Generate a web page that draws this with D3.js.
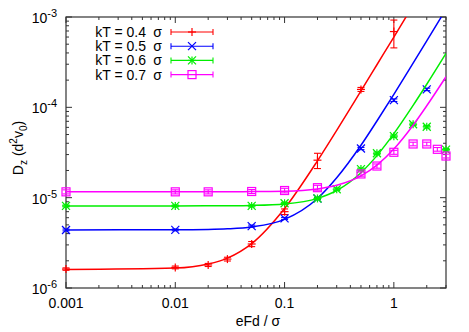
<!DOCTYPE html>
<html>
<head>
<meta charset="utf-8">
<script src="https://cdn.jsdelivr.net/npm/d3@7"></script>
<style>
  body { margin: 0; background: #fff; }
  svg text { font-family: "Liberation Sans", Arial, sans-serif; font-size: 14px; fill: #000; }
</style>
</head>
<body>
<div id="chart"></div>
<script>
// measured points, eFd/sigma vs D_z
const redX = [0.001, 0.01, 0.02, 0.03, 0.05, 0.1, 0.2, 0.5, 1];
const redY = [1.62e-6, 1.69e-6, 1.80e-6, 2.09e-6, 3.07e-6, 7.0e-6, 2.6e-5, 1.58e-4, 6.9e-4];
const redErr = [0.05e-6, 0.06e-6, 0.07e-6, 0.1e-6, 0.2e-6, 0.5e-6, 0.5e-5, 0.08e-4, 2.35e-4];

const blueX = [0.001, 0.01, 0.05, 0.1, 0.2, 0.5, 1, 2];
const blueY = [4.39e-6, 4.4e-6, 4.85e-6, 5.9e-6, 9.8e-6, 3.5e-5, 1.2e-4, 1.58e-4];
const blueErr = [0.1e-6, 0.1e-6, 0.12e-6, 0.15e-6, 0.25e-6, 1e-6, 4e-6, 5e-6];

const greenX = [0.001, 0.01, 0.05, 0.1, 0.2, 0.3, 0.5, 0.7, 1, 1.5, 2, 3];
const greenY = [8.1e-6, 8.1e-6, 8.1e-6, 8.67e-6, 9.8e-6, 1.24e-5, 2.07e-5, 3.1e-5, 4.8e-5, 6.5e-5, 6.1e-5, 3.4e-5];
const greenErr = [0.2e-6, 0.2e-6, 0.2e-6, 0.2e-6, 0.3e-6, 0.4e-6, 0.6e-6, 1e-6, 1.5e-6, 2e-6, 2e-6, 1e-6];

const magX = [0.001, 0.01, 0.02, 0.05, 0.1, 0.2, 0.5, 0.7, 1, 1.5, 2, 2.5, 3];
const magY = [1.16e-5, 1.16e-5, 1.16e-5, 1.17e-5, 1.2e-5, 1.29e-5, 1.83e-5, 2.24e-5, 3.18e-5, 3.93e-5, 3.93e-5, 3.43e-5, 2.89e-5];
const magErr = [0.6e-6, 0.6e-6, 0.6e-6, 0.6e-6, 0.7e-6, 0.8e-6, 1e-6, 1.2e-6, 1.6e-6, 1.8e-6, 1.8e-6, 1.6e-6, 1.4e-6];

const fitX = [0.001, 0.01, 0.02, 0.03, 0.05, 0.1, 0.2, 0.3, 0.5, 0.7, 1, 1.5, 2, 3];
const redFit = [1.6e-6, 1.66e-6, 1.84e-6, 2.14e-6, 3.1e-6, 7.6e-6, 2.56e-5, 5.56e-5, 1.52e-4, 2.96e-4, 6.0e-4, 1.35e-3, 2.4e-3, 5.4e-3];
const blueFit = [4.4e-6, 4.41e-6, 4.45e-6, 4.52e-6, 4.74e-6, 5.75e-6, 9.8e-6, 1.66e-5, 3.8e-5, 7.06e-5, 1.39e-4, 3.08e-4, 5.44e-4, 1.22e-3];
const greenFit = [8.1e-6, 8.1e-6, 8.12e-6, 8.14e-6, 8.21e-6, 8.53e-6, 9.82e-6, 1.2e-5, 1.89e-5, 2.92e-5, 5.11e-5, 1.05e-4, 1.8e-4, 3.95e-4];
const magFit = [1.16e-5, 1.16e-5, 1.16e-5, 1.16e-5, 1.17e-5, 1.18e-5, 1.25e-5, 1.37e-5, 1.74e-5, 2.29e-5, 3.46e-5, 6.34e-5, 1.04e-4, 2.18e-4];

const legendLabels = ["kT = 0.4", "kT = 0.5", "kT = 0.6", "kT = 0.7"];
const legendUnit = "σ";
const xTicks = [0.001, 0.01, 0.1, 1];
const xTickLabels = ["0.001", "0.01", "0.1", "1"];
const yTicks = [1e-6, 1e-5, 1e-4, 1e-3];
const yTickExp = ["-6", "-5", "-4", "-3"];

const series = [
  { xs: redX, ys: redY, err: redErr, fit: redFit, color: "#ff0000", mark: "plus" },
  { xs: blueX, ys: blueY, err: blueErr, fit: blueFit, color: "#0000ff", mark: "cross" },
  { xs: greenX, ys: greenY, err: greenErr, fit: greenFit, color: "#00ee00", mark: "star" },
  { xs: magX, ys: magY, err: magErr, fit: magFit, color: "#ff00ff", mark: "square" }
];

const W = 469, H = 332;
const plot = { left: 66, right: 446, top: 17, bottom: 288 };

const svg = d3.select("#chart").append("svg").attr("width", W).attr("height", H);

const x = d3.scaleLog().domain([0.001, 3]).range([plot.left, plot.right]);
const y = d3.scaleLog().domain([1e-6, 1e-3]).range([plot.bottom, plot.top]);

svg.append("clipPath").attr("id", "clip").append("rect")
  .attr("x", plot.left).attr("y", plot.top)
  .attr("width", plot.right - plot.left).attr("height", plot.bottom - plot.top);

// ticks (gnuplot style: inward, mirrored)
const axisColor = "#333";
const tickG = svg.append("g").attr("stroke", axisColor).attr("stroke-width", 1);
const xMinor = [];
for (let e = -3; e <= 0; e++) for (let m = 1; m <= 9; m++) { const v = m * Math.pow(10, e); if (v <= 3) xMinor.push(v); }
xMinor.forEach(v => {
  const len = (Math.abs(Math.log10(v) - Math.round(Math.log10(v))) < 1e-9) ? 6 : 3;
  const px = x(v);
  tickG.append("line").attr("x1", px).attr("x2", px).attr("y1", plot.bottom).attr("y2", plot.bottom - len);
  tickG.append("line").attr("x1", px).attr("x2", px).attr("y1", plot.top).attr("y2", plot.top + len);
});
const yMinor = [];
for (let e = -6; e <= -4; e++) for (let m = 1; m <= 9; m++) yMinor.push(m * Math.pow(10, e));
yMinor.push(1e-3);
yMinor.forEach(v => {
  const len = (Math.abs(Math.log10(v) - Math.round(Math.log10(v))) < 1e-9) ? 6 : 3;
  const py = y(v);
  tickG.append("line").attr("y1", py).attr("y2", py).attr("x1", plot.left).attr("x2", plot.left + len);
  tickG.append("line").attr("y1", py).attr("y2", py).attr("x1", plot.right).attr("x2", plot.right - len);
});

svg.append("rect")
  .attr("x", plot.left).attr("y", plot.top)
  .attr("width", plot.right - plot.left).attr("height", plot.bottom - plot.top)
  .attr("fill", "none").attr("stroke", axisColor).attr("stroke-width", 1.2);

// tick labels
svg.selectAll(".xtl").data(xTicks).enter().append("text")
  .attr("x", d => x(d)).attr("y", plot.bottom + 20)
  .attr("text-anchor", "middle")
  .text((d, i) => xTickLabels[i]);

yTicks.forEach((v, i) => {
  const t = svg.append("text").attr("x", 57).attr("y", y(v) + 6).attr("text-anchor", "end");
  t.append("tspan").text("10");
  t.append("tspan").attr("dy", -6).attr("font-size", 11).text(yTickExp[i]);
});

// axis titles
svg.append("text").attr("x", 258).attr("y", 326).attr("text-anchor", "middle").text("eFd / σ");
const yl = svg.append("text").attr("transform", "translate(23,148) rotate(-90)").attr("text-anchor", "middle");
yl.append("tspan").text("D");
yl.append("tspan").attr("dy", 4).attr("font-size", 10).text("z");
yl.append("tspan").attr("dy", -4).text(" (d");
yl.append("tspan").attr("dy", -6).attr("font-size", 10).text("2");
yl.append("tspan").attr("dy", 6).text("v");
yl.append("tspan").attr("dy", 4).attr("font-size", 10).text("0");
yl.append("tspan").attr("dy", -4).text(")");

function drawMarker(g, type, cx, cy, color) {
  const s = 4;
  const m = g.append("g").attr("stroke", color).attr("stroke-width", 1.2).attr("fill", "none");
  if (type === "plus" || type === "star") {
    m.append("line").attr("x1", cx - s).attr("x2", cx + s).attr("y1", cy).attr("y2", cy);
    m.append("line").attr("x1", cx).attr("x2", cx).attr("y1", cy - s).attr("y2", cy + s);
  }
  if (type === "cross" || type === "star") {
    m.append("line").attr("x1", cx - s).attr("x2", cx + s).attr("y1", cy - s).attr("y2", cy + s);
    m.append("line").attr("x1", cx - s).attr("x2", cx + s).attr("y1", cy + s).attr("y2", cy - s);
  }
  if (type === "square") {
    m.append("rect").attr("x", cx - s).attr("y", cy - s).attr("width", 2 * s).attr("height", 2 * s);
  }
}

const line = d3.line().curve(d3.curveMonotoneX);

series.forEach(s => {
  svg.append("path")
    .attr("clip-path", "url(#clip)")
    .attr("d", line(fitX.map((v, i) => [x(v), y(s.fit[i])])))
    .attr("fill", "none").attr("stroke", s.color).attr("stroke-width", 1.5);

  const g = svg.append("g");
  s.xs.forEach((v, i) => {
    const px = x(v), py = y(s.ys[i]);
    const hi = y(s.ys[i] + s.err[i]), lo = y(s.ys[i] - s.err[i]);
    const eb = g.append("g").attr("stroke", s.color).attr("stroke-width", 1.1);
    eb.append("line").attr("x1", px).attr("x2", px).attr("y1", hi).attr("y2", lo);
    eb.append("line").attr("x1", px - 3.5).attr("x2", px + 3.5).attr("y1", hi).attr("y2", hi);
    eb.append("line").attr("x1", px - 3.5).attr("x2", px + 3.5).attr("y1", lo).attr("y2", lo);
    drawMarker(g, s.mark, px, py, s.color);
  });
});

// legend
const lg = svg.append("g");
series.forEach((s, i) => {
  const ly = 32 + i * 14.2;
  lg.append("text").attr("x", 146).attr("y", ly + 5).attr("text-anchor", "end").text(legendLabels[i]);
  lg.append("text").attr("x", 162).attr("y", ly + 5).attr("text-anchor", "end").text(legendUnit);
  const e = lg.append("g").attr("stroke", s.color).attr("stroke-width", 1.1);
  e.append("line").attr("x1", 171).attr("x2", 213).attr("y1", ly).attr("y2", ly);
  e.append("line").attr("x1", 171).attr("x2", 171).attr("y1", ly - 3).attr("y2", ly + 3);
  e.append("line").attr("x1", 213).attr("x2", 213).attr("y1", ly - 3).attr("y2", ly + 3);
  drawMarker(lg, s.mark, 192, ly, s.color);
});
</script>
</body>
</html>
